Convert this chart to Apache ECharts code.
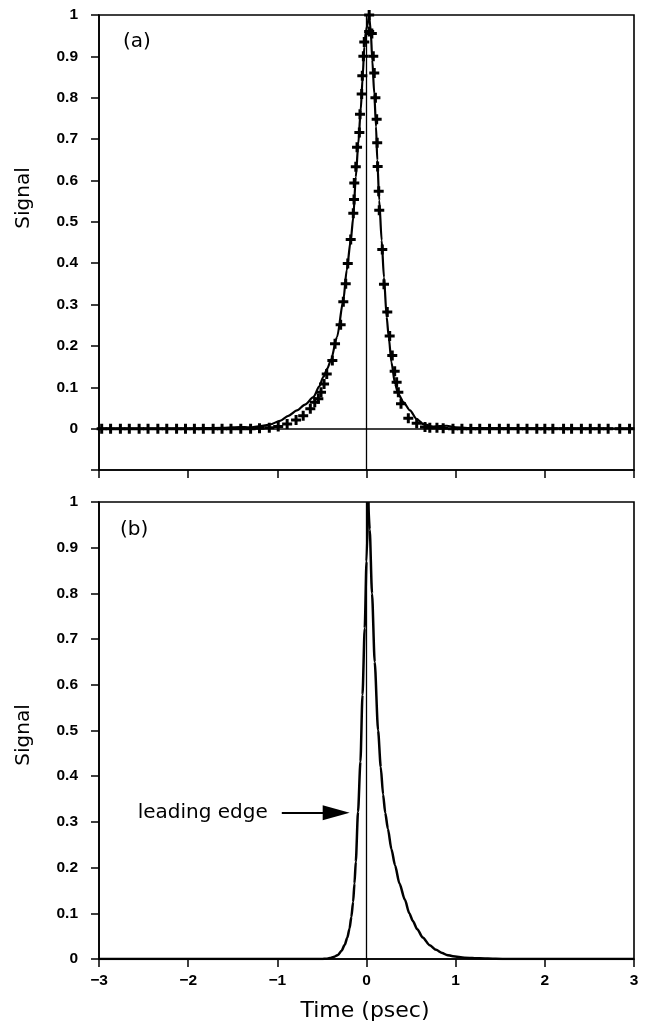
<!DOCTYPE html>
<html>
<head>
<meta charset="utf-8">
<script src="https://cdn.jsdelivr.net/npm/echarts@6/dist/echarts.min.js"></script>
<style>
html,body{margin:0;padding:0;background:#fff;}
#chart{width:645px;height:1028px;}
</style>
</head>
<body>
<div id="chart"></div>
<script>
// ---- Data ----
const xTicks = [-3, -2, -1, 0, 1, 2, 3];

// Panel (a): measured points (+ markers) [time psec, signal]
const measuredA = [
  [-2.97,0],[-2.87,0],[-2.76,0],[-2.66,0],[-2.55,0],[-2.45,0],[-2.34,0],[-2.24,0],
  [-2.13,0],[-2.03,0],[-1.93,0],[-1.83,0],[-1.72,0],[-1.62,0],[-1.52,0],[-1.41,0],
  [-1.30,0],[-1.20,0.001],[-1.09,0.002],[-0.99,0.005],[-0.89,0.011],[-0.79,0.021],
  [-0.71,0.031],[-0.63,0.048],[-0.58,0.064],[-0.54,0.072],[-0.51,0.088],[-0.476,0.108],
  [-0.446,0.132],[-0.383,0.165],[-0.353,0.205],[-0.29,0.251],[-0.26,0.307],[-0.233,0.35],
  [-0.21,0.399],[-0.177,0.457],[-0.148,0.521],[-0.14,0.554],[-0.137,0.594],[-0.12,0.633],
  [-0.106,0.68],[-0.08,0.716],[-0.073,0.76],[-0.054,0.809],[-0.047,0.853],[-0.035,0.90],
  [-0.025,0.935],[0.03,0.96],[0.03,1.0],
  [0.06,0.955],[0.076,0.90],[0.087,0.86],[0.10,0.80],[0.114,0.748],[0.12,0.691],
  [0.125,0.634],[0.137,0.574],[0.143,0.528],[0.177,0.433],[0.196,0.349],[0.233,0.282],
  [0.26,0.224],[0.289,0.177],[0.316,0.139],[0.338,0.112],[0.357,0.088],[0.387,0.06],
  [0.469,0.025],[0.563,0.013],[0.656,0.004],[0.71,0.002],[0.79,0.002],[0.86,0.001],
  [0.97,0],[1.07,0],[1.17,0],[1.27,0],[1.38,0],[1.49,0],[1.59,0],[1.70,0],[1.80,0],
  [1.91,0],[2.00,0],[2.09,0],[2.21,0],[2.30,0],[2.41,0],[2.51,0],[2.61,0],[2.71,0],
  [2.84,0],[2.95,0]
];

// Panel (a): fitted curve, rising part and falling part (meet at the peak)
const fitARise = [
  [-3,0],[-2.0,0],[-1.6,0.002],[-1.42,0.004],[-1.31,0.003],[-1.19,0.006],[-1.08,0.01],
  [-0.97,0.019],[-0.877,0.031],[-0.78,0.044],[-0.69,0.058],[-0.596,0.076],[-0.53,0.102],
  [-0.484,0.125],[-0.44,0.145],[-0.40,0.165],[-0.33,0.222],[-0.26,0.31],[-0.222,0.383],
  [-0.177,0.455],[-0.148,0.512],[-0.12,0.608],[-0.092,0.689],[-0.065,0.77],[-0.043,0.85],
  [-0.025,0.923],[-0.005,0.964],[0.03,1.0]
];
const fitAFall = [
  [0.03,1.0],[0.047,0.964],[0.065,0.891],[0.087,0.81],[0.107,0.73],
  [0.121,0.649],[0.143,0.552],[0.17,0.455],[0.196,0.366],[0.226,0.27],[0.25,0.22],
  [0.28,0.16],[0.32,0.108],[0.357,0.084],[0.413,0.064],[0.488,0.044],[0.563,0.023],
  [0.637,0.011],[0.75,0.005],[0.9,0.007],[1.0,0.003],[1.2,0.001],[3,0]
];

// Panel (b): model pulse, rising edge and falling edge
const pulseBRise = [
  [-3,0],[-0.5,0],[-0.45,0.0008],[-0.41,0.002],[-0.36,0.005],[-0.32,0.009],[-0.28,0.018],
  [-0.244,0.031],[-0.215,0.047],[-0.19,0.067],[-0.17,0.092],[-0.15,0.125],[-0.135,0.165],
  [-0.12,0.213],[-0.095,0.322],[-0.068,0.432],[-0.045,0.578],[-0.02,0.724],[0,0.87],[0.02,1.0]
];
const pulseBFall = [
  [0.02,1.0],[0.036,0.94],[0.062,0.80],[0.092,0.65],[0.13,0.50],[0.16,0.42],[0.186,0.36],
  [0.21,0.32],[0.24,0.285],[0.28,0.24],[0.32,0.205],[0.37,0.165],[0.43,0.13],[0.48,0.10],
  [0.52,0.083],[0.57,0.065],[0.63,0.047],[0.71,0.03],[0.78,0.02],[0.85,0.013],[0.9,0.009],
  [0.97,0.006],[1.1,0.003],[1.27,0.0015],[1.45,0.0005],[1.6,0],[3,0]
];

// annotation arrow (data coords, panel b)
const arrowStart = [-0.95, 0.32];
const arrowEnd = [-0.34, 0.32];

// ---- Chart ----
const chart = echarts.init(document.getElementById('chart'));
const black = '#000';
const tickFont = { color: black, fontFamily: 'Liberation Sans, Arial, sans-serif', fontWeight: 'bold', fontSize: 15.5 };
const plusPath = 'path://M3.5,0H6.5V3.5H10V6.5H6.5V10H3.5V6.5H0V3.5H3.5Z';
const minus = v => (v < 0 ? '\u2212' + Math.abs(v) : String(v));

function xAxisCfg(grid, labels) {
  return {
    type: 'value', gridIndex: grid, min: -3, max: 3, interval: 1,
    axisLine: { show: true, onZero: false, lineStyle: { color: black, width: 1.6 } },
    axisTick: { show: true, inside: false, length: 8, lineStyle: { color: black, width: 1.5 } },
    axisLabel: Object.assign({ show: labels, margin: 14, formatter: minus }, tickFont),
    splitLine: { show: false }
  };
}
function yAxisCfg(grid, min) {
  return {
    type: 'value', gridIndex: grid, min: min, max: 1, interval: 0.1,
    axisLine: { show: true, onZero: false, lineStyle: { color: black, width: 1.6 } },
    axisTick: { show: true, inside: false, length: 8, lineStyle: { color: black, width: 1.5 } },
    axisLabel: Object.assign({ margin: 21, formatter: v => (v < -0.05 ? '' : String(+v.toFixed(1))) }, tickFont),
    splitLine: { show: false }
  };
}
function curve(xi, data, w) {
  return {
    type: 'line', xAxisIndex: xi, yAxisIndex: xi, data: data, showSymbol: false,
    smooth: 0.25, smoothMonotone: 'x',
    lineStyle: { color: black, width: w }, silent: true
  };
}

const riseA = curve(0, fitARise, 2.2);
riseA.markLine = {
  silent: true, symbol: ['none', 'none'], animation: false,
  label: { show: false },
  lineStyle: { color: black, width: 1.3, type: 'solid' },
  data: [{ xAxis: 0 }, { yAxis: 0, lineStyle: { width: 1.6 } }]
};
const riseB = curve(1, pulseBRise, 2.5);
riseB.markLine = {
  silent: true, symbol: ['none', 'none'], animation: false,
  lineStyle: { color: black, width: 1.3, type: 'solid' },
  label: { show: false },
  data: [
    { xAxis: 0 },
    [
      { coord: arrowStart, symbol: 'none',
        lineStyle: { width: 2 },
        label: { show: true, position: 'start', formatter: 'leading edge', distance: 14,
                 color: black, fontFamily: 'DejaVu Sans', fontSize: 20 } },
      { coord: arrowEnd, symbol: 'triangle', symbolSize: [15, 27] }
    ]
  ]
};

const option = {
  backgroundColor: '#fff',
  animation: false,
  grid: [
    { left: 99, right: 11, top: 15, height: 455, show: true, borderColor: black, borderWidth: 1.6 },
    { left: 99, right: 11, top: 502, height: 457, show: true, borderColor: black, borderWidth: 1.6 }
  ],
  xAxis: [xAxisCfg(0, false), xAxisCfg(1, true)],
  yAxis: [yAxisCfg(0, -0.1), yAxisCfg(1, 0)],
  series: [
    riseA,
    curve(0, fitAFall, 2.2),
    {
      type: 'scatter', xAxisIndex: 0, yAxisIndex: 0, data: measuredA,
      symbol: plusPath, symbolSize: 10, itemStyle: { color: black, opacity: 1 }, silent: true
    },
    riseB,
    curve(1, pulseBFall, 2.5)
  ],
  graphic: [
    { type: 'text', x: 123, y: 42, style: { text: '(a)', font: '20px DejaVu Sans', fill: black, textVerticalAlign: 'middle' } },
    { type: 'text', x: 120, y: 530, style: { text: '(b)', font: '20px DejaVu Sans', fill: black, textVerticalAlign: 'middle' } },
    { type: 'text', x: 24, y: 198, rotation: Math.PI / 2, style: { text: 'Signal', font: '20px DejaVu Sans', fill: black, textAlign: 'center', textVerticalAlign: 'middle' } },
    { type: 'text', x: 24, y: 735, rotation: Math.PI / 2, style: { text: 'Signal', font: '20px DejaVu Sans', fill: black, textAlign: 'center', textVerticalAlign: 'middle' } },
    { type: 'text', x: 365, y: 1011, style: { text: 'Time (psec)', font: '22px DejaVu Sans', fill: black, textAlign: 'center', textVerticalAlign: 'middle' } }
  ]
};
chart.setOption(option);
</script>
</body>
</html>
